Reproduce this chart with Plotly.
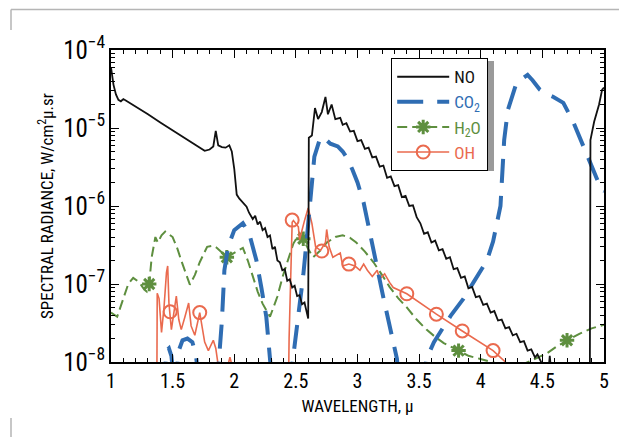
import plotly.graph_objects as go

FONT = "Roboto Condensed, DejaVu Sans Condensed, sans-serif"
C_NO = "#111111"
C_CO2 = "#2f6db3"
C_H2O = "#5e8f3f"
C_OH = "#ea6a4e"

# ---------------- data (wavelength in micron, radiance W/cm2 um sr) ----------------
no_x = [1.00, 1.01, 1.02, 1.04, 1.06, 1.08, 1.10, 1.12, 1.20, 1.30, 1.40, 1.50, 1.60, 1.70,
        1.76, 1.80, 1.83, 1.85, 1.87, 1.90, 1.93, 1.96, 1.98, 2.00, 2.02, 2.04, 2.06, 2.08,
        2.10, 2.12, 2.14, 2.15, 2.17, 2.19, 2.21, 2.23, 2.25, 2.27, 2.29, 2.31, 2.33, 2.35,
        2.37, 2.39, 2.41, 2.43, 2.45, 2.47, 2.49, 2.51, 2.53, 2.55, 2.57, 2.59, 2.60, 2.605,
        2.63, 2.655, 2.68, 2.71, 2.74, 2.76, 2.79, 2.82, 2.86, 2.88, 2.91, 2.94, 2.97, 3.00,
        3.03, 3.06, 3.09, 3.12, 3.15, 3.18, 3.21, 3.24, 3.27, 3.30, 3.33, 3.36, 3.39, 3.42,
        3.45, 3.48, 3.51, 3.54, 3.57, 3.60, 3.63, 3.66, 3.69, 3.72, 3.75, 3.78, 3.81, 3.84,
        3.87, 3.90, 3.93, 3.96, 3.99, 4.02, 4.05, 4.08, 4.11, 4.14, 4.17, 4.20, 4.23, 4.26,
        4.29, 4.32, 4.35, 4.38, 4.41, 4.44, 4.46, 4.49, 4.51, 4.55, 4.56, 4.57, 4.885, 4.89,
        4.92, 4.96, 4.985, 5.00]
no_y = [6.0e-5, 4.6e-5, 3.6e-5, 2.7e-5, 2.3e-5, 2.2e-5, 2.35e-5, 2.25e-5, 1.9e-5, 1.5e-5,
        1.18e-5, 9.3e-6, 7.4e-6, 5.9e-6, 5.1e-6, 5.3e-6, 5.8e-6, 9.2e-6, 6.0e-6, 5.7e-6,
        5.6e-6, 6.0e-6, 5.0e-6, 3.0e-6, 1.4e-6, 1.25e-6, 1.15e-6, 1.05e-6, 9.8e-7, 8.2e-7,
        7.2e-7, 6.8e-7, 7.5e-7, 5.8e-7, 6.3e-7, 4.9e-7, 5.2e-7, 4.0e-7, 4.2e-7, 2.8e-7,
        3.0e-7, 2.0e-7, 1.9e-7, 1.5e-7, 1.55e-7, 1.1e-7, 1.15e-7, 9.0e-8, 9.5e-8, 7.0e-8,
        7.2e-8, 5.5e-8, 5.8e-8, 4.2e-8, 3.6e-8, 7.5e-6, 8.0e-6, 1.8e-5, 1.3e-5, 1.6e-5,
        2.5e-5, 1.5e-5, 2.0e-5, 1.3e-5, 1.35e-5, 1.1e-5, 1.15e-5, 9.0e-6, 9.2e-6, 6.8e-6,
        7.0e-6, 5.4e-6, 5.6e-6, 4.2e-6, 4.3e-6, 3.2e-6, 3.3e-6, 2.3e-6, 2.4e-6, 1.8e-6,
        1.85e-6, 1.3e-6, 1.35e-6, 1.0e-6, 1.02e-6, 7.2e-7, 6.0e-7, 4.4e-7, 4.6e-7, 3.4e-7,
        3.6e-7, 2.7e-7, 2.8e-7, 2.1e-7, 2.2e-7, 1.55e-7, 1.6e-7, 1.2e-7, 1.25e-7, 8.8e-8,
        9.2e-8, 6.8e-8, 7.0e-8, 5.4e-8, 5.6e-8, 4.3e-8, 4.5e-8, 3.4e-8, 3.5e-8, 2.7e-8,
        2.8e-8, 2.2e-8, 2.3e-8, 1.8e-8, 1.85e-8, 1.4e-8, 1.45e-8, 1.15e-8, 1.25e-8, 1.0e-8,
        8.0e-9, 8.0e-9, 1.2e-8, 8.0e-9, 5.0e-9, 7.0e-6, 1.2e-5, 2.0e-5, 3.1e-5, 3.3e-5]

co2_x = [1.43, 1.45, 1.47, 1.49, 1.51, None,
         1.52, 1.55, 1.58, 1.62, 1.66, 1.69, 1.71, None,
         1.86, 1.88, 1.90, 1.92, 1.95, 2.00, 2.07, 2.12, 2.18, 2.22, 2.26, 2.29, 2.31, None,
         2.45, 2.48, 2.52, 2.56, 2.59, 2.62, 2.65, 2.70, 2.74, 2.78, 2.84, 2.88, 2.92, 2.96,
         3.00, 3.05, 3.10, 3.15, 3.21, 3.27, 3.32, 3.34, None,
         3.53, 3.56, 3.62, 3.67, 3.76, 3.86, 3.96, 4.05, 4.10, 4.16, 4.19, 4.22, 4.29, 4.38,
         4.42, 4.48, 4.52, 4.59, 4.67, 4.75, 4.86, 4.91, 4.98, 5.00]
co2_y = [5e-9, 1.4e-8, 1.5e-8, 1.2e-8, 6e-9, None,
         5e-9, 1.4e-8, 1.9e-8, 2.0e-8, 1.8e-8, 1.2e-8, 6e-9, None,
         5e-9, 1.3e-8, 3.4e-8, 1.5e-7, 3.0e-7, 4.9e-7, 6.0e-7, 4.5e-7, 2.0e-7, 9.0e-8,
         3.8e-8, 1.1e-8, 5e-9, None,
         5e-9, 1.2e-8, 3.5e-8, 1.3e-7, 4.0e-7, 1.5e-6, 4.3e-6, 7.7e-6, 7.2e-6, 6.3e-6,
         5.8e-6, 5.0e-6, 4.0e-6, 2.9e-6, 2.0e-6, 1.1e-6, 4.5e-7, 1.8e-7, 6.7e-8, 2.5e-8,
         1.1e-8, 5e-9, None,
         5e-9, 1.1e-8, 1.8e-8, 2.4e-8, 4.0e-8, 6.5e-8, 1.15e-7, 2.0e-7, 3.5e-7, 1.0e-6,
         7.0e-6, 1.7e-5, 3.8e-5, 4.8e-5, 4.1e-5, 3.1e-5, 2.8e-5, 2.5e-5, 2.1e-5, 1.2e-5,
         4.6e-6, 2.9e-6, 1.6e-6, 1.55e-6]

h2o_x = [1.00, 1.05, 1.10, 1.14, 1.18, 1.23, 1.27, 1.29, 1.31, 1.33, 1.36, 1.38, 1.41, 1.44,
         1.50, 1.54, 1.57, 1.61, 1.64, 1.68, 1.72, 1.78, 1.83, 1.86, 1.90, 1.94, 1.98, 2.02,
         2.07, 2.11, 2.15, 2.19, 2.23, 2.29, 2.35, 2.39, 2.43, 2.48, 2.53, 2.56, 2.60, 2.64,
         2.70, 2.75, 2.82, 2.88, 2.94, 2.99, 3.06, 3.13, 3.20, 3.26, 3.33, 3.40, 3.48, 3.56,
         3.63, 3.70, 3.82, 3.90, 3.99, 4.11, 4.25, 4.38, 4.46, 4.54, 4.62, 4.70, 4.80, 4.90,
         5.00]
h2o_y = [4.3e-8, 3.8e-8, 6.5e-8, 1.0e-7, 1.2e-7, 1.05e-7, 8.5e-8, 8.0e-8, 1.0e-7, 2.2e-7,
         4.0e-7, 3.4e-7, 4.2e-7, 4.7e-7, 4.0e-7, 2.8e-7, 2.0e-7, 1.3e-7, 9.8e-8, 1.3e-7,
         1.9e-7, 3.0e-7, 3.1e-7, 2.9e-7, 2.5e-7, 2.2e-7, 2.4e-7, 2.6e-7, 2.9e-7, 2.0e-7,
         1.25e-7, 8.0e-8, 5.6e-8, 3.8e-8, 6.9e-8, 1.2e-7, 1.9e-7, 3.3e-7, 4.5e-7, 3.8e-7,
         2.8e-7, 2.2e-7, 2.7e-7, 3.4e-7, 4.0e-7, 4.2e-7, 3.9e-7, 3.4e-7, 2.6e-7, 1.9e-7,
         1.3e-7, 9.2e-8, 6.6e-8, 5.0e-8, 3.5e-8, 2.6e-8, 2.1e-8, 1.75e-8, 1.4e-8, 1.2e-8,
         1.1e-8, 9.8e-9, 8.0e-9, 1.0e-8, 1.15e-8, 1.3e-8, 1.6e-8, 1.9e-8, 2.3e-8, 2.7e-8,
         3.0e-8]
h2o_mark_x = [1.31, 1.94, 2.56, 3.82, 4.70]
h2o_mark_y = [1.0e-7, 2.2e-7, 3.8e-7, 1.4e-8, 1.9e-8]

oh_x = [1.372, 1.375, 1.39, 1.41, 1.43, 1.45, 1.46, 1.47, 1.49, 1.52, 1.53, 1.55, 1.57, 1.60,
        1.63, 1.65, 1.68, 1.72, 1.74, 1.76, 1.79, 1.83, 1.85, 1.87, 1.88, None,
        1.94, 1.965, 1.99, None,
        2.44, 2.445, 2.47, 2.48, 2.52, 2.53, 2.57, 2.60, 2.63, 2.66, 2.70, 2.74, 2.75, 2.77,
        2.80, 2.86, 2.88, 2.93, 2.98, 3.02, 3.05, 3.08, 3.12, 3.16, 3.18, 3.22, 3.26, 3.29,
        3.40, 3.51, 3.64, 3.85, 4.10, 4.20, 4.26]
oh_y = [5e-9, 7.6e-8, 6.5e-8, 2.4e-8, 5.0e-8, 1.4e-7, 1.7e-7, 5.7e-8, 2.6e-8, 5.0e-8,
        7.0e-8, 3.5e-8, 2.6e-8, 3.8e-8, 5.7e-8, 2.9e-8, 2.2e-8, 4.3e-8, 2.6e-8, 1.8e-8,
        1.4e-8, 1.9e-8, 1.5e-8, 1.0e-8, 7e-9, None,
        8e-9, 1.15e-8, 8e-9, None,
        5e-9, 2.0e-8, 6.2e-7, 6.5e-7, 5.4e-7, 3.7e-7, 6.5e-7, 9.4e-7, 6.0e-7, 3.0e-7,
        2.7e-7, 3.4e-7, 5.0e-7, 3.0e-7, 2.2e-7, 2.5e-7, 1.7e-7, 1.8e-7, 1.7e-7, 1.5e-7,
        1.8e-7, 1.5e-7, 1.25e-7, 1.5e-7, 1.15e-7, 1.35e-7, 1.05e-7, 9.0e-8, 7.5e-8, 5.7e-8,
        4.1e-8, 2.5e-8, 1.4e-8, 1.0e-8, 7e-9]
oh_mark_x = [1.48, 1.72, 2.47, 2.71, 2.93, 3.40, 3.64, 3.85, 4.10]
oh_mark_y = [4.4e-8, 4.3e-8, 6.6e-7, 2.65e-7, 1.8e-7, 7.5e-8, 4.1e-8, 2.5e-8, 1.4e-8]

x_range = [1, 5]
y_range_log = [-8, -4]

# ---------------- figure ----------------
fig = go.Figure()

fig.add_trace(go.Scatter(x=h2o_x, y=h2o_y, mode="lines", showlegend=False, legendgroup="h2o",
                         line=dict(color=C_H2O, width=2, dash="10px,5px"), hoverinfo="skip"))
fig.add_trace(go.Scatter(x=h2o_mark_x, y=h2o_mark_y, mode="markers", showlegend=False,
                         legendgroup="h2o",
                         marker=dict(symbol="asterisk-open", size=12, color=C_H2O,
                                     line=dict(color=C_H2O, width=3))))
fig.add_trace(go.Scatter(x=oh_x, y=oh_y, mode="lines", showlegend=False, legendgroup="oh",
                         line=dict(color=C_OH, width=1.6), hoverinfo="skip"))
fig.add_trace(go.Scatter(x=oh_mark_x, y=oh_mark_y, mode="markers", showlegend=False,
                         legendgroup="oh",
                         marker=dict(symbol="circle-open", size=13, color=C_OH,
                                     line=dict(color=C_OH, width=2))))
fig.add_trace(go.Scatter(x=co2_x, y=co2_y, mode="lines", showlegend=False, legendgroup="co2",
                         line=dict(color=C_CO2, width=4, dash="24px,13px"), connectgaps=False))
fig.add_trace(go.Scatter(x=no_x, y=no_y, mode="lines", showlegend=False, legendgroup="no",
                         line=dict(color=C_NO, width=1.8)))

# legend entries
fig.add_trace(go.Scatter(x=[None], y=[None], mode="lines", legendgroup="no", legendrank=1,
                         name="<span style='color:%s'>NO</span>" % C_NO,
                         line=dict(color=C_NO, width=2)))
fig.add_trace(go.Scatter(x=[None], y=[None], mode="lines", legendgroup="co2", legendrank=2,
                         name="<span style='color:%s'>CO<sub>2</sub></span>" % C_CO2,
                         line=dict(color=C_CO2, width=4, dash="26px,14px")))
fig.add_trace(go.Scatter(x=[None], y=[None], mode="lines+markers", legendgroup="h2o",
                         legendrank=3,
                         name="<span style='color:%s'>H<sub>2</sub>O</span>" % C_H2O,
                         line=dict(color=C_H2O, width=2, dash="10px,5px"),
                         marker=dict(symbol="asterisk-open", size=12, color=C_H2O,
                                     line=dict(color=C_H2O, width=3))))
fig.add_trace(go.Scatter(x=[None], y=[None], mode="lines+markers", legendgroup="oh",
                         legendrank=4,
                         name="<span style='color:%s'>OH</span>" % C_OH,
                         line=dict(color=C_OH, width=1.6),
                         marker=dict(symbol="circle-open", size=13, color=C_OH,
                                     line=dict(color=C_OH, width=2))))

axis_common = dict(showline=True, linecolor="black", linewidth=1.5, mirror="ticks",
                   ticks="inside", ticklen=8, tickwidth=1.2, tickcolor="black",
                   showgrid=False, zeroline=False,
                   tickfont=dict(family=FONT, size=20, color="black"))

# the page body adds an 8 px offset; plot area wanted at x 111..604, y 50..362 in the window
PAGE_OFF = 8


def px_to_paper_x(px):
    return (px - 111) / 493.0


def px_to_paper_y(py):
    return (362 - py) / 312.0


fig.update_layout(
    width=627, height=437,
    margin=dict(l=111 - PAGE_OFF, r=23 + PAGE_OFF, t=50 - PAGE_OFF, b=75 + PAGE_OFF),
    paper_bgcolor="white", plot_bgcolor="white",
    font=dict(family=FONT, color="black"),
    xaxis=dict(range=x_range, dtick=0.5, tick0=1,
               minor=dict(dtick=0.1, ticks="inside", ticklen=4, tickcolor="black",
                          showgrid=False),
               title=dict(text="WAVELENGTH, μ", font=dict(family=FONT, size=17), standoff=8),
               **axis_common),
    yaxis=dict(type="log", range=y_range_log, dtick=1, exponentformat="power",
               minor=dict(dtick="D1", ticks="inside", ticklen=4, tickcolor="black",
                          showgrid=False),
               title=dict(text="SPECTRAL RADIANCE, W/cm<sup>2</sup>μ.sr",
                          font=dict(family=FONT, size=17), standoff=5),
               **axis_common),
    legend=dict(x=px_to_paper_x(391), y=px_to_paper_y(58), xanchor="left", yanchor="top",
                bgcolor="white", bordercolor="black", borderwidth=1.2,
                font=dict(family=FONT, size=17), itemwidth=52, tracegroupgap=0),
    showlegend=True,
    shapes=[
        dict(type="line", xref="paper", yref="paper", x0=px_to_paper_x(11), x1=px_to_paper_x(627),
             y0=px_to_paper_y(9.5), y1=px_to_paper_y(9.5), line=dict(color="#b5b5b5", width=1.5)),
        dict(type="line", xref="paper", yref="paper", x0=px_to_paper_x(11), x1=px_to_paper_x(11),
             y0=px_to_paper_y(9.5), y1=px_to_paper_y(30), line=dict(color="#b5b5b5", width=1.5)),
        dict(type="line", xref="paper", yref="paper", x0=px_to_paper_x(11), x1=px_to_paper_x(11),
             y0=px_to_paper_y(418), y1=px_to_paper_y(437), line=dict(color="#b5b5b5", width=1.5)),
        dict(type="rect", xref="paper", yref="paper", layer="above",
             x0=px_to_paper_x(394), x1=px_to_paper_x(494), y0=px_to_paper_y(61),
             y1=px_to_paper_y(171), fillcolor="#9a9a9a", line=dict(width=0)),
    ],
)

fig.write_html("out.html")
